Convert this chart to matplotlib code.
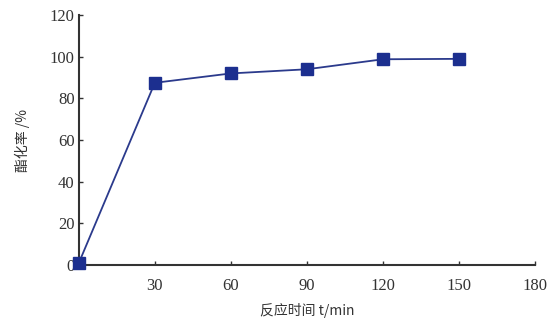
import matplotlib
matplotlib.use("Agg")
import matplotlib.pyplot as plt

# --- Данные ---
time_min = [0, 30, 60, 90, 120, 150]
conversion = [1, 87.5, 92, 94, 98.8, 99]
x_ticks = [30, 60, 90, 120, 150, 180]
y_ticks = [0, 20, 40, 60, 80, 100, 120]

plt.rcParams['font.family'] = ['Liberation Serif', 'Noto Sans CJK SC']

fig = plt.figure(figsize=(5.51, 3.21), dpi=100)
ax = fig.add_axes([0.143, 0.174, 0.828, 0.779])

ax.plot(time_min, conversion, color="#2b3a8c", lw=1.3, marker="s",
        markersize=8, markerfacecolor="#1c2f8f", markeredgecolor="#1c2f8f",
        clip_on=False, zorder=3)

ax.set_xlim(0, 180)
ax.set_ylim(0, 120)
ax.set_xticks(x_ticks)
ax.set_yticks(y_ticks)
ax.tick_params(direction="in", length=3, width=1, labelsize=12, colors="#333333")
ax.tick_params(axis="x", pad=9)
ax.tick_params(axis="y", pad=3)
for s in ["top", "right"]:
    ax.spines[s].set_visible(False)
for s in ["left", "bottom"]:
    ax.spines[s].set_linewidth(1.5)
    ax.spines[s].set_color("#333333")

ax.set_xlabel("反应时间 t/min", family=["Noto Sans CJK SC", "DejaVu Sans"],
              fontsize=10, color="#333333", labelpad=7)
ax.set_ylabel("酯化率 /%", family=["Noto Sans CJK SC", "DejaVu Sans"],
              fontsize=10, color="#333333", labelpad=14)

fig.savefig("out.png", dpi=100)
